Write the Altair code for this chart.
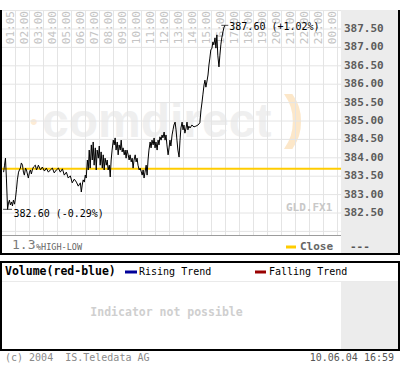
import altair as alt
import pandas as pd

# ---- data ----
minutes = [9, 13, 17, 21, 26, 30, 34, 38, 43, 47, 51, 56, 60, 64, 68, 73, 77, 81, 85, 90,
           94, 98, 103, 107, 111, 115, 120, 124, 128, 132, 137, 145, 150, 154, 158, 167, 175, 184, 192, 201,
           209, 218, 226, 235, 244, 252, 261, 269, 278, 286, 295, 303, 312, 321, 329, 338, 342, 346, 350, 355,
           359, 363, 368, 372, 376, 380, 385, 389, 393, 397, 402, 406, 410, 415, 419, 423, 427, 432, 436, 440,
           444, 449, 453, 457, 462, 466, 470, 474, 479, 483, 487, 491, 496, 500, 504, 509, 513, 517, 521, 526,
           530, 534, 538, 543, 547, 551, 556, 560, 564, 568, 573, 577, 581, 585, 590, 594, 598, 603, 607, 611,
           615, 620, 624, 628, 632, 637, 641, 645, 650, 654, 658, 662, 667, 671, 675, 679, 684, 688, 692, 697,
           701, 705, 709, 714, 718, 722, 726, 731, 735, 739, 744, 748, 752, 756, 761, 765, 769, 774, 778, 782,
           786, 791, 795, 799, 803, 808, 816, 825, 833, 842, 850, 855, 859, 863, 868, 872, 876, 880, 885, 889,
           893, 897, 902, 906, 910, 915, 919, 923, 927, 932, 936, 940, 944, 949, 953, 957]
prices = [383.61, 383.80, 383.99, 383.45, 382.60, 382.77, 382.85, 382.72, 382.80, 382.69,
          382.85, 382.74, 382.91, 383.13, 383.40, 383.61, 383.67, 383.72, 383.86, 383.80,
          383.61, 383.53, 383.72, 383.67, 383.56, 383.45, 383.61, 383.67, 383.56, 383.67,
          383.75, 383.80, 383.67, 383.72, 383.80, 383.67, 383.75, 383.64, 383.72, 383.61,
          383.67, 383.72, 383.59, 383.67, 383.72, 383.61, 383.70, 383.53, 383.61, 383.45,
          383.51, 383.32, 383.42, 383.34, 383.23, 383.32, 383.07, 383.26, 383.40, 383.34,
          383.53, 383.45, 383.94, 383.67, 384.21, 383.72, 384.35, 383.94, 384.43, 383.80,
          384.27, 383.67, 384.21, 383.99, 384.32, 383.80, 384.16, 383.72, 384.08, 383.67,
          383.99, 383.80, 383.94, 383.67, 383.80, 383.48, 383.94, 384.21, 384.48, 384.35,
          384.54, 384.21, 384.43, 384.08, 384.35, 384.21, 384.48, 384.16, 384.27, 384.08,
          384.21, 383.99, 384.21, 384.08, 383.94, 384.08, 383.89, 383.99, 383.72, 383.94,
          384.08, 383.89, 383.99, 383.80, 383.67, 383.72, 383.64, 383.53, 383.67, 383.45,
          383.61, 383.80, 383.53, 383.94, 384.21, 384.43, 384.27, 384.48, 384.35, 384.54,
          384.27, 384.43, 384.21, 384.48, 384.35, 384.57, 384.48, 384.62, 384.54, 384.70,
          384.48, 384.62, 384.35, 384.08, 384.27, 384.48, 384.32, 384.62, 384.76, 384.89,
          384.97, 384.76, 384.48, 384.21, 384.02, 384.48, 384.81, 384.97, 384.76, 384.89,
          384.67, 384.81, 384.97, 384.76, 384.86, 384.81, 384.89, 384.84, 384.86, 384.89,
          384.95, 385.30, 385.49, 385.71, 385.98, 386.11, 385.92, 386.06, 386.25, 386.52,
          386.71, 386.93, 386.98, 387.15, 387.07, 387.26, 386.98, 387.34, 386.79, 386.47,
          386.79, 387.07, 387.26, 387.42, 387.53, 387.60]

tick_hours = list(range(1, 25))
tick_labels = ["01:05", "02:00", "03:00", "04:00", "05:00", "06:00", "07:00", "08:00",
               "09:00", "10:00", "11:00", "12:00", "13:00", "14:00", "15:00", "16:00",
               "17:00", "18:00", "19:00", "20:00", "21:00", "22:00", "23:00", "00:00"]
price_grid = [382.0, 382.5, 383.0, 383.5, 384.0, 384.5, 385.0, 385.5, 386.0, 386.5, 387.0, 387.5, 388.0]
price_ticks = [382.5, 383.0, 383.5, 384.0, 384.5, 385.0, 385.5, 386.0, 386.5, 387.0, 387.5]
prev_close = 383.70
low_time, low_price = 26, 382.60
high_time, high_price = 957, 387.60

MONO = "DejaVu Sans Mono"
GRID = "#e4e4e4"

xs = alt.Scale(domain=[0, 24.3], range=[1.5, 341.7], nice=False, zero=False)
ys = alt.Scale(domain=[381.9, 388.0], range=[235.08, 10.6], nice=False, zero=False)


def X(f):
    return alt.X(f, type="quantitative", scale=xs, axis=None)


def Y(f):
    return alt.Y(f, type="quantitative", scale=ys, axis=None)


one = pd.DataFrame({"t": [""]})


def ptext(s, x, y, size=10, color="#000000", weight="normal", align="left",
          font=MONO, baseline="middle"):
    return alt.Chart(pd.DataFrame({"t": [s]})).mark_text(
        align=align, baseline=baseline, font=font, fontSize=size,
        fontWeight=weight, color=color
    ).encode(x=alt.value(x), y=alt.value(y), text="t:N")


def prect(x, x2, y, y2, color):
    return alt.Chart(one).mark_rect(color=color).encode(
        x=alt.value(x), x2=alt.value(x2), y=alt.value(y), y2=alt.value(y2))


line_df = pd.DataFrame({"h": [m / 60 for m in minutes], "p": prices})
low_df = pd.DataFrame({"h": [low_time / 60], "p": [low_price],
                       "t": [f"{low_price:.2f} ({(low_price / prev_close - 1) * 100:+.2f}%)"]})
high_df = pd.DataFrame({"h": [high_time / 60], "p": [high_price],
                        "t": [f"{high_price:.2f} ({(high_price / prev_close - 1) * 100:+.2f}%)"]})

layers = []
# watermark
layers.append(ptext("comdirect", 42, 137, size=48, font="Liberation Sans", weight="bold",
                    color="#efefef", baseline="alphabetic"))
layers.append(ptext(")", 284, 137, size=60, font="Liberation Sans", weight="bold",
                    color="#fce7c9", baseline="alphabetic"))
layers.append(ptext("\u2022", 30, 122, size=22, font="Liberation Sans",
                    color="#fdecd6"))

# gray side panel of main chart
layers.append(prect(341, 398, 10, 253, "#ececec"))

# grid
layers.append(alt.Chart(pd.DataFrame({"h": tick_hours})).mark_rule(color=GRID, strokeWidth=1).encode(
    x=X("h"), y=alt.value(10.6), y2=alt.value(235)))
layers.append(alt.Chart(pd.DataFrame({"p": price_grid})).mark_rule(color=GRID, strokeWidth=1).encode(
    y=Y("p"), x=alt.value(1), x2=alt.value(341)))

# time labels
layers.append(alt.Chart(pd.DataFrame({"h": tick_hours, "lab": tick_labels})).mark_text(
    angle=270, align="right", baseline="bottom", font=MONO, fontSize=11, color="#c4c4c4"
).encode(x=X("h"), y=alt.value(11), text="lab:N"))

# previous close line
layers.append(alt.Chart(pd.DataFrame({"p": [prev_close]})).mark_rule(color="#ffcc00", strokeWidth=2).encode(
    y=Y("p"), x=alt.value(1), x2=alt.value(341)))

# price line
layers.append(alt.Chart(line_df).mark_line(color="#000000", strokeWidth=1).encode(x=X("h"), y=Y("p")))

# min / max markers and labels
for df, dx, dy, w in [(low_df, 6, 5, 9), (high_df, 4.5, 1.5, 7)]:
    layers.append(alt.Chart(df).mark_tick(orient="horizontal", size=w, thickness=1, color="#000000").encode(
        x=X("h"), y=Y("p")))
    layers.append(alt.Chart(df).mark_text(align="left", baseline="middle", dx=dx, dy=dy, font=MONO,
                                          fontSize=10, color="#000000").encode(
        x=X("h"), y=Y("p"), text="t:N"))

# y labels
layers.append(alt.Chart(pd.DataFrame({"p": price_ticks})).mark_text(
    align="left", baseline="middle", font=MONO, fontSize=11, fontWeight="bold", color="#5c5c5c"
).encode(y=Y("p"), x=alt.value(344), text=alt.Text("p:Q", format=".2f")))

layers.append(ptext("GLD.FX1", 286, 208, size=11, weight="bold", color="#c8c8c8"))

# legend strip of main chart
layers.append(alt.Chart(one).mark_rule(color="#9c9c9c", strokeWidth=1).encode(
    x=alt.value(0), x2=alt.value(341), y=alt.value(235.5)))
layers.append(ptext("1.3", 12, 245, size=13, color="#7a7a7a"))
layers.append(ptext("%HIGH-LOW", 36, 246.5, size=8.5, color="#666666"))
layers.append(alt.Chart(one).mark_rule(color="#ffcc00", strokeWidth=3).encode(
    x=alt.value(286), x2=alt.value(296), y=alt.value(247)))
layers.append(ptext("Close", 300, 247, size=11, weight="bold", color="#666666"))
layers.append(ptext("---", 350, 247, size=11, weight="bold", color="#555555"))

# main borders
layers.append(prect(0, 2, 10, 255, "#000000"))
layers.append(prect(398, 400, 10, 255, "#000000"))
layers.append(prect(0, 400, 253, 255, "#000000"))

# lower panel
layers.append(prect(341, 398, 282, 349, "#ececec"))
layers.append(alt.Chart(one).mark_rule(color="#eaeaea", strokeWidth=1).encode(
    x=alt.value(2), x2=alt.value(398), y=alt.value(281.5)))
layers.append(prect(0, 400, 261, 263, "#000000"))
layers.append(prect(0, 400, 349, 351, "#000000"))
layers.append(prect(0, 2, 261, 351, "#000000"))
layers.append(prect(398, 400, 261, 351, "#000000"))
layers.append(ptext("Volume(red-blue)", 5, 272, size=11.5, weight="bold", color="#000000"))
layers.append(alt.Chart(one).mark_rule(color="#000099", strokeWidth=3).encode(
    x=alt.value(125), x2=alt.value(137), y=alt.value(272)))
layers.append(ptext("Rising Trend", 139, 272, size=10, color="#000000"))
layers.append(alt.Chart(one).mark_rule(color="#990000", strokeWidth=3).encode(
    x=alt.value(255), x2=alt.value(266), y=alt.value(272)))
layers.append(ptext("Falling Trend", 269, 272, size=10, color="#000000"))
layers.append(ptext("Indicator not possible", 166.5, 313, size=11.5, weight="bold",
                    color="#cfcfcf", align="center"))

# footer
layers.append(ptext("(c) 2004 \u00a0IS.Teledata AG", 5, 357.5, size=10, color="#8a8a8a"))
layers.append(ptext("10.06.04 16:59", 394, 357.5, size=10, color="#555555", align="right"))

chart = alt.layer(*layers).properties(
    width=400, height=365, padding=0,
    autosize=alt.AutoSizeParams(type="none"),
    background="#ffffff",
).configure_view(strokeWidth=0)

chart.save("out.html", embed_options={"renderer": "svg", "actions": False})
